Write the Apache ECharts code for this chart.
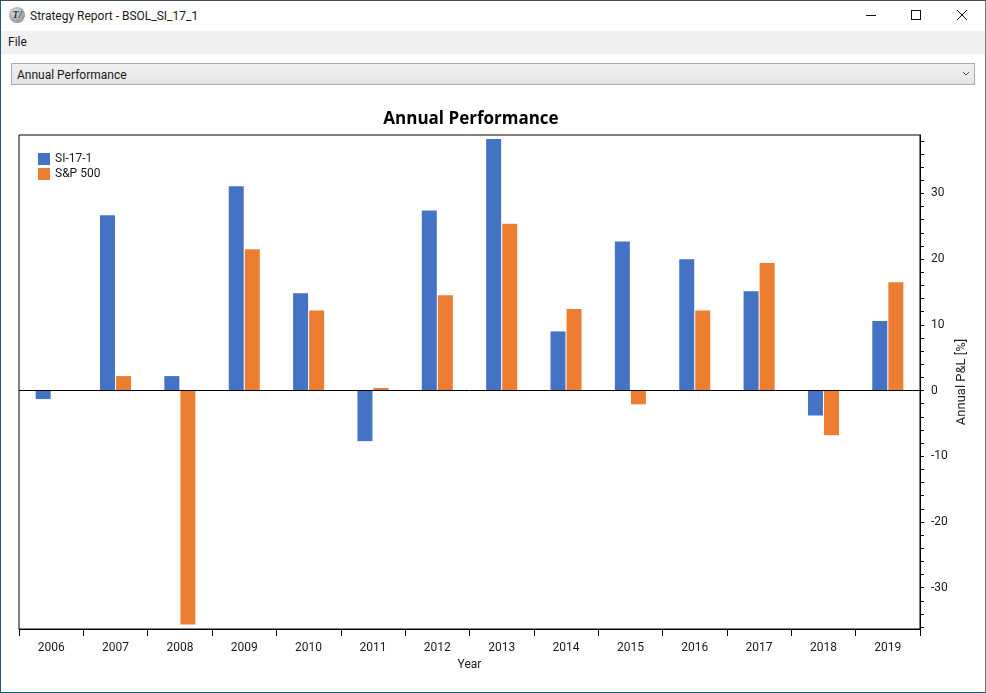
<!DOCTYPE html>
<html>
<head>
<meta charset="utf-8">
<title>Strategy Report - BSOL_SI_17_1</title>
<script src="https://cdn.jsdelivr.net/npm/echarts@6/dist/echarts.min.js"></script>
<style>
  html, body { margin: 0; padding: 0; background: #fff; overflow: hidden; }
  #win { position: relative; width: 986px; height: 693px; font: 12px Roboto, sans-serif; color: #1a1a1a; }
  #win > * { position: absolute; }
  #frame { left: 0; top: 0; width: 984px; height: 691px; border: 1px solid #1d5a73; border-right-color: #7a7a7a; border-top-color: #3c4a52; }
  #icon { left: 9px; top: 7px; width: 16px; height: 16px; border-radius: 50%; background: radial-gradient(circle at 40% 35%, #e4e4e4, #77777c); color: #234; font: italic bold 10px/16px "Liberation Serif", serif; text-align: center; }
  #caption { left: 30px; top: 9px; }
  #menubar { left: 1px; top: 31px; width: 984px; height: 23px; background: #f0f0f0; }
  #menuFile { left: 8px; top: 35px; }
  #combo { left: 11px; top: 63px; width: 962px; height: 20px; border: 1px solid #acacac; background: linear-gradient(#f0f0f0, #e5e5e5); }
  #comboText { left: 17px; top: 68px; }
  #win svg { overflow: visible; }
  #chart { left: 0; top: 0; width: 986px; height: 693px; }
</style>
</head>
<body>
<div id="win">
  <div id="frame"></div>
  <div id="icon">T/</div>
  <div id="caption">Strategy Report - BSOL_SI_17_1</div>
  <svg style="left:866px;top:10px" width="102" height="11" fill="none" stroke="#111" stroke-width="1">
    <path d="M0 5.5H10"/>
    <rect x="45.5" y="0.5" width="9" height="9"/>
    <path d="M91 0L101 10M101 0L91 10"/>
  </svg>
  <div id="menubar"></div>
  <div id="menuFile">File</div>
  <div id="combo"></div>
  <div id="comboText">Annual Performance</div>
  <svg style="left:963px;top:72px" width="6" height="4" fill="none" stroke="#555" stroke-width="1"><path d="M0 0L3 3L6 0"/></svg>
  <div id="chart"></div>
</div>
<script>
// ========== data ==========
const years = ['2006', '2007', '2008', '2009', '2010', '2011', '2012', '2013', '2014', '2015', '2016', '2017', '2018', '2019'];
const strategy = [-1.3, 26.7, 2.2, 31.1, 14.8, -7.7, 27.4, 38.3, 9.0, 22.7, 20.0, 15.1, -3.8, 10.6];
const sp500 = [null, 2.2, -35.6, 21.5, 12.2, 0.4, 14.5, 25.4, 12.4, -2.1, 12.2, 19.4, -6.8, 16.5];
const yLabels = [-30, -20, -10, 0, 10, 20, 30];
const yTicks = [-36, -34, -32, -30, -28, -26, -24, -22, -20, -18, -16, -14, -12, -10, -8, -6, -4, -2, 0, 2, 4, 6, 8, 10, 12, 14, 16, 18, 20, 22, 24, 26, 28, 30, 32, 34, 36, 38];

const FONT = 'Roboto, sans-serif';
const chart = echarts.init(document.getElementById('chart'), null, { renderer: 'canvas' });

function barSeries(name, data, color) {
  return { name, type: 'bar', data, barWidth: 15, barGap: '7%', itemStyle: { color }, animation: false };
}

const first = barSeries('SI-17-1', strategy, '#4472c4');
// zero line across the plot
first.markLine = {
  silent: true, symbol: 'none', animation: false, label: { show: false },
  lineStyle: { color: '#000', width: 1, type: 'solid' },
  data: [{ yAxis: 0 }]
};

chart.setOption({
  animation: false,
  backgroundColor: 'transparent',
  title: {
    text: 'Annual Performance', left: 466, top: 106, textAlign: 'center',
    textStyle: { color: '#000', fontFamily: '"Open Sans", sans-serif', fontSize: 17, fontWeight: 'bold' }
  },
  legend: {
    left: 38, top: 153, orient: 'vertical', itemWidth: 12, itemHeight: 12, itemGap: 3, icon: 'rect',
    textStyle: { color: '#1a1a1a', fontFamily: FONT, fontSize: 12 },
    padding: 0
  },
  grid: { left: 19, right: 66, top: 135, height: 494, show: true, borderColor: '#000', borderWidth: 1, backgroundColor: 'transparent' },
  xAxis: {
    type: 'category', data: years, name: 'Year', nameLocation: 'middle', nameGap: 27,
    nameTextStyle: { color: '#1a1a1a', fontFamily: FONT, fontSize: 12 },
    axisLine: { onZero: false, lineStyle: { color: '#000' } },
    axisTick: { show: true, length: 7, lineStyle: { color: '#000' } },
    axisLabel: { color: '#1a1a1a', fontFamily: FONT, fontSize: 12, margin: 13 },
    splitLine: { show: false }
  },
  yAxis: {
    type: 'value', position: 'right', min: -36.3, max: 38.9,
    name: 'Annual P&L [%]', nameLocation: 'middle', nameGap: 35, nameRotate: 90, nameMoveOverlap: false,
    nameTextStyle: { color: '#1a1a1a', fontFamily: FONT, fontSize: 13 },
    axisLine: { show: true, lineStyle: { color: '#000' } },
    axisTick: { show: true, length: 4, customValues: yTicks, lineStyle: { color: '#000' } },
    axisLabel: { color: '#1a1a1a', fontFamily: FONT, fontSize: 12, margin: 11, customValues: yLabels },
    splitLine: { show: false }
  },
  series: [first, barSeries('S&P 500', sp500, '#ed7d31')]
});

window.addEventListener('resize', () => chart.resize());
</script>
</body>
</html>
